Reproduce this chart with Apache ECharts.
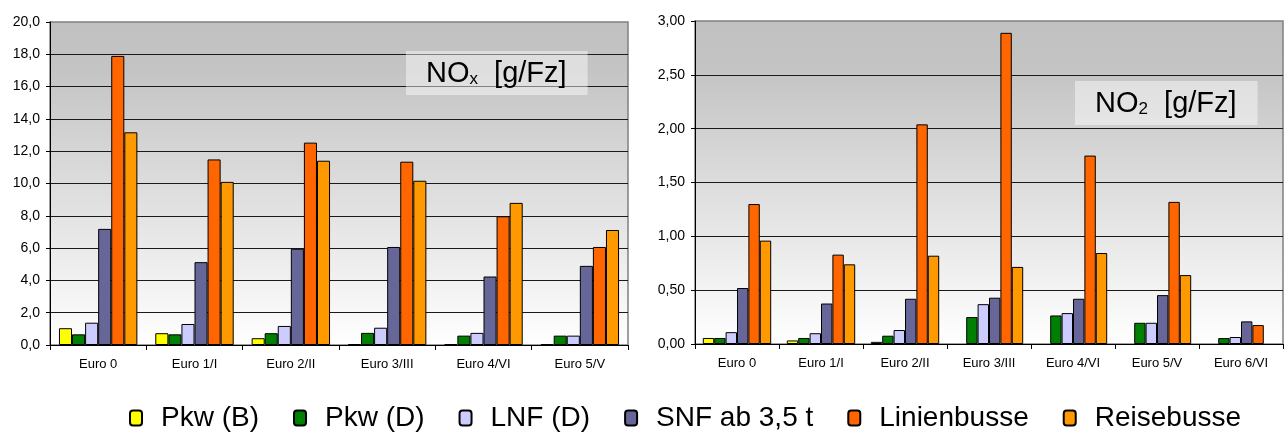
<!DOCTYPE html>
<html>
<head>
<meta charset="utf-8">
<script src="https://cdn.jsdelivr.net/npm/echarts@6/dist/echarts.min.js"></script>
<style>
html,body{margin:0;padding:0;background:#fff;}
#chart{width:1284px;height:432px;}
</style>
</head>
<body>
<div id="chart"></div>
<script>
// ---- data ----
const seriesNames = ['Pkw (B)', 'Pkw (D)', 'LNF (D)', 'SNF ab 3,5 t', 'Linienbusse', 'Reisebusse'];
const seriesColors = ['#FFFF00', '#008000', '#CCCCFF', '#666699', '#FF6600', '#FF9900'];

const categoriesNOx = ['Euro 0', 'Euro 1/I', 'Euro 2/II', 'Euro 3/III', 'Euro 4/VI', 'Euro 5/V'];
const noxPkwB   = [1.04, 0.73, 0.42, 0.05, 0.05, 0.04];
const noxPkwD   = [0.66, 0.66, 0.73, 0.75, 0.58, 0.58];
const noxLNF    = [1.38, 1.30, 1.18, 1.07, 0.75, 0.58];
const noxSNF    = [7.19, 5.13, 5.96, 6.07, 4.24, 4.90];
const noxLinien = [17.9, 11.49, 12.53, 11.35, 7.97, 6.07];
const noxReise  = [13.17, 10.10, 11.41, 10.17, 8.80, 7.12];

const categoriesNO2 = ['Euro 0', 'Euro 1/I', 'Euro 2/II', 'Euro 3/III', 'Euro 4/VI', 'Euro 5/V', 'Euro 6/VI'];
const no2PkwB   = [0.056, 0.033, 0.02, null, null, null, null];
const no2PkwD   = [0.056, 0.056, 0.077, 0.25, 0.265, 0.197, 0.055];
const no2LNF    = [0.11, 0.10, 0.13, 0.37, 0.287, 0.197, 0.065];
const no2SNF    = [0.52, 0.376, 0.42, 0.43, 0.42, 0.454, 0.21];
const no2Linien = [1.30, 0.83, 2.04, 2.89, 1.75, 1.32, 0.176];
const no2Reise  = [0.96, 0.74, 0.82, 0.716, 0.845, 0.64, null];

const noxData = [noxPkwB, noxPkwD, noxLNF, noxSNF, noxLinien, noxReise];
const no2Data = [no2PkwB, no2PkwD, no2LNF, no2SNF, no2Linien, no2Reise];

// ---- chart ----
const FONT = 'Liberation Sans, Arial, sans-serif';
const chart = echarts.init(document.getElementById('chart'), null, {renderer: 'canvas'});

const gridBg = {
  type: 'linear', x: 0, y: 0, x2: 0, y2: 1,
  colorStops: [{offset: 0, color: '#C0C0C0'}, {offset: 0.15, color: '#C4C4C4'}, {offset: 1, color: '#FFFFFF'}]
};

function xAxis(idx, cats) {
  return {
    type: 'category', gridIndex: idx, data: cats,
    axisLine: {lineStyle: {color: '#000', width: 1}},
    axisTick: {show: true, length: 5, lineStyle: {color: '#000'}},
    axisLabel: {color: '#000', fontFamily: FONT, fontSize: 13, margin: 13}
  };
}
function yAxis(idx, max, interval, digits) {
  return {
    type: 'value', gridIndex: idx, min: 0, max: max, interval: interval,
    axisLine: {show: true, lineStyle: {color: '#000', width: 1}},
    axisTick: {show: true, length: 4, lineStyle: {color: '#000'}},
    axisLabel: {color: '#000', fontFamily: FONT, fontSize: 14, margin: 10,
      formatter: v => v.toFixed(digits).replace('.', ',')},
    splitLine: {show: true, showMaxLine: false, lineStyle: {color: '#1a1a1a', width: 1}}
  };
}

const series = [];
[noxData, no2Data].forEach((set, g) => {
  set.forEach((arr, i) => {
    series.push({
      name: seriesNames[i], type: 'bar', xAxisIndex: g, yAxisIndex: g,
      data: arr.map(v => v === null ? '-' : v),
      barGap: '0%', barCategoryGap: '18.6%',
      itemStyle: {color: seriesColors[i], borderColor: '#000', borderWidth: 1},
      emphasis: {disabled: true},
      animation: false
    });
  });
});

function titleRich() {
  return {
    m: {fontFamily: FONT, fontSize: 29, fontWeight: 'normal', color: '#000', lineHeight: 34, verticalAlign: 'bottom'},
    s: {fontFamily: FONT, fontSize: 17, fontWeight: 'normal', color: '#000', lineHeight: 26, verticalAlign: 'bottom'}
  };
}

chart.setOption({
  animation: false,
  backgroundColor: '#fff',
  title: [
    {text: '{m|NO}{s|x}{m|  [g/Fz]}', left: 406, top: 46, padding: [8, 21, 7, 20],
     backgroundColor: 'rgba(255,255,255,0.45)', textStyle: {fontWeight: 'normal', rich: titleRich()}},
    {text: '{m|NO}{s|2}{m|  [g/Fz]}', left: 1075, top: 76, padding: [8, 21, 7, 20],
     backgroundColor: 'rgba(255,255,255,0.45)', textStyle: {fontWeight: 'normal', rich: titleRich()}}
  ],
  legend: {
    data: seriesNames, left: 129, top: 404, padding: 0, itemWidth: 12, itemHeight: 15, itemGap: 34,
    selectedMode: false,
    textStyle: {fontFamily: FONT, fontSize: 28, lineHeight: 28, color: '#000', padding: [0, 0, 0, 14]}
  },
  grid: [
    {left: 50, right: 656, top: 22, bottom: 87, show: true, backgroundColor: gridBg,
     borderColor: '#808080', borderWidth: 1.5},
    {left: 695, right: 1, top: 21, bottom: 88, show: true, backgroundColor: gridBg,
     borderColor: '#808080', borderWidth: 1.5}
  ],
  xAxis: [xAxis(0, categoriesNOx), xAxis(1, categoriesNO2)],
  yAxis: [yAxis(0, 20, 2, 1), yAxis(1, 3, 0.5, 2)],
  series: series
});
</script>
</body>
</html>
